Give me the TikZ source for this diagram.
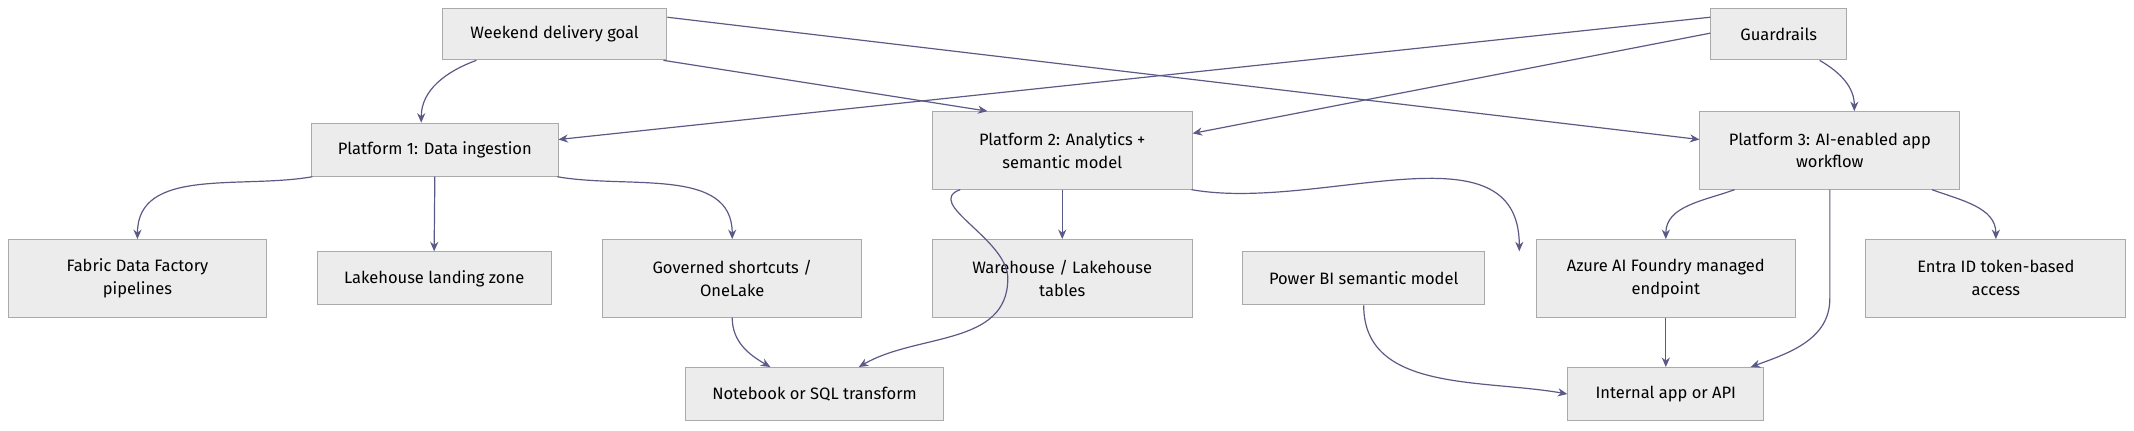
\documentclass[tikz,border=0pt]{standalone}
\usepackage{fontspec}
\setmainfont{Fira Sans}
\usetikzlibrary{arrows.meta}
\definecolor{boxfill}{HTML}{ECECEC}
\definecolor{boxline}{HTML}{AAAAAA}
\definecolor{edgecol}{HTML}{5B5985}
\tikzset{
  box/.style={draw=boxline,fill=boxfill,line width=0.4pt,align=center,inner sep=0pt,
    font=\fontsize{6.9}{9.6}\selectfont},
  edge/.style={draw=edgecol,line width=0.5pt,-{Stealth[length=1.4mm,width=1.2mm]}}
}
\begin{document}
\begin{tikzpicture}[x=0.02cm,y=-0.02cm]
\useasboundingbox (0,0) rectangle (1568,316);
% top row
\node (goal) [box,minimum width=3.3cm,minimum height=0.76cm] at (407.5,25) {Weekend delivery goal};
\node (guard) [box,minimum width=2cm,minimum height=0.76cm] at (1307,25) {Guardrails};
% platforms
\node (p1) [box,minimum width=3.62cm,minimum height=0.78cm] at (319.5,110) {Platform 1: Data ingestion};
\node (p2) [box,minimum width=3.82cm,minimum height=1.14cm] at (780.5,110.5) {Platform 2: Analytics +\\semantic model};
\node (p3) [box,minimum width=3.82cm,minimum height=1.14cm] at (1344.5,110.5) {Platform 3: AI-enabled app\\workflow};
% outputs
\node (fdf) [box,minimum width=3.8cm,minimum height=1.14cm] at (101,204.5) {Fabric Data Factory\\pipelines};
\node (lake) [box,minimum width=3.44cm,minimum height=0.78cm] at (319,204.5) {Lakehouse landing zone};
\node (gov) [box,minimum width=3.8cm,minimum height=1.14cm] at (538,204.5) {Governed shortcuts /\\OneLake};
\node (wh) [box,minimum width=3.82cm,minimum height=1.14cm] at (780.5,204.5) {Warehouse / Lakehouse\\tables};
\node (pbi) [box,minimum width=3.56cm,minimum height=0.78cm] at (1002,204.5) {Power BI semantic model};
\node (azure) [box,minimum width=3.8cm,minimum height=1.14cm] at (1224,204.5) {Azure AI Foundry managed\\endpoint};
\node (entra) [box,minimum width=3.82cm,minimum height=1.14cm] at (1466.5,204.5) {Entra ID token-based\\access};
\node (nb) [box,minimum width=3.78cm,minimum height=0.78cm] at (598.5,289.5) {Notebook or SQL transform};
\node (api) [box,minimum width=2.88cm,minimum height=0.78cm] at (1224,289.5) {Internal app or API};
% edges from goal and guardrails
\draw[edge] ([xshift=-1.15cm]goal.south) to[out=200,in=90] ([xshift=-0.2cm]p1.north);
\draw[edge] ([xshift=1.6cm]goal.south) -- ([xshift=-1.1cm]p2.north);
\draw[edge] ([yshift=-0.14cm]goal.north east) -- ([yshift=0.16cm]p3.west);
\draw[edge] ([yshift=-0.14cm]guard.north west) -- ([yshift=0.15cm]p1.east);
\draw[edge] ([yshift=0.4cm]guard.south west) -- ([yshift=0.25cm]p2.east);
\draw[edge] ([xshift=0.6cm]guard.south) to[out=-30,in=90] ([xshift=0.36cm]p3.north);
% platform 1
\draw[edge] ([xshift=-1.8cm]p1.south) to[out=190,in=90] (fdf.north);
\draw[edge] (p1.south) -- (lake.north);
\draw[edge] ([xshift=1.8cm]p1.south) to[out=-10,in=90] (gov.north);
\draw[edge] (gov.south) to[out=-90,in=150] ([xshift=-0.65cm]nb.north);
% platform 2
\draw[edge] ([xshift=-1.5cm]p2.south) to[out=200,in=90] ([xshift=-0.8cm]p2.south |- gov.center)
  to[out=-90,in=30] ([xshift=0.65cm]nb.north);
\draw[edge] (p2.south) -- (wh.north);
\draw[edge] ([xshift=1.9cm]p2.south) to[out=-10,in=90] ([xshift=0.5cm]pbi.north east |- pbi.north);
\draw[edge] (pbi.south) to[out=-90,in=170] (api.west);
% platform 3
\draw[edge] ([xshift=-1.4cm]p3.south) to[out=200,in=90] (azure.north);
\draw[edge] ([xshift=1.5cm]p3.south) to[out=-20,in=90] (entra.north);
\draw[edge] (azure.south) -- (api.north);
\draw[edge] (p3.south) to[out=-90,in=90] ([yshift=-1.6cm]p3.south)
  to[out=-90,in=20] ([xshift=-0.2cm]api.north east);
\end{tikzpicture}
\end{document}
